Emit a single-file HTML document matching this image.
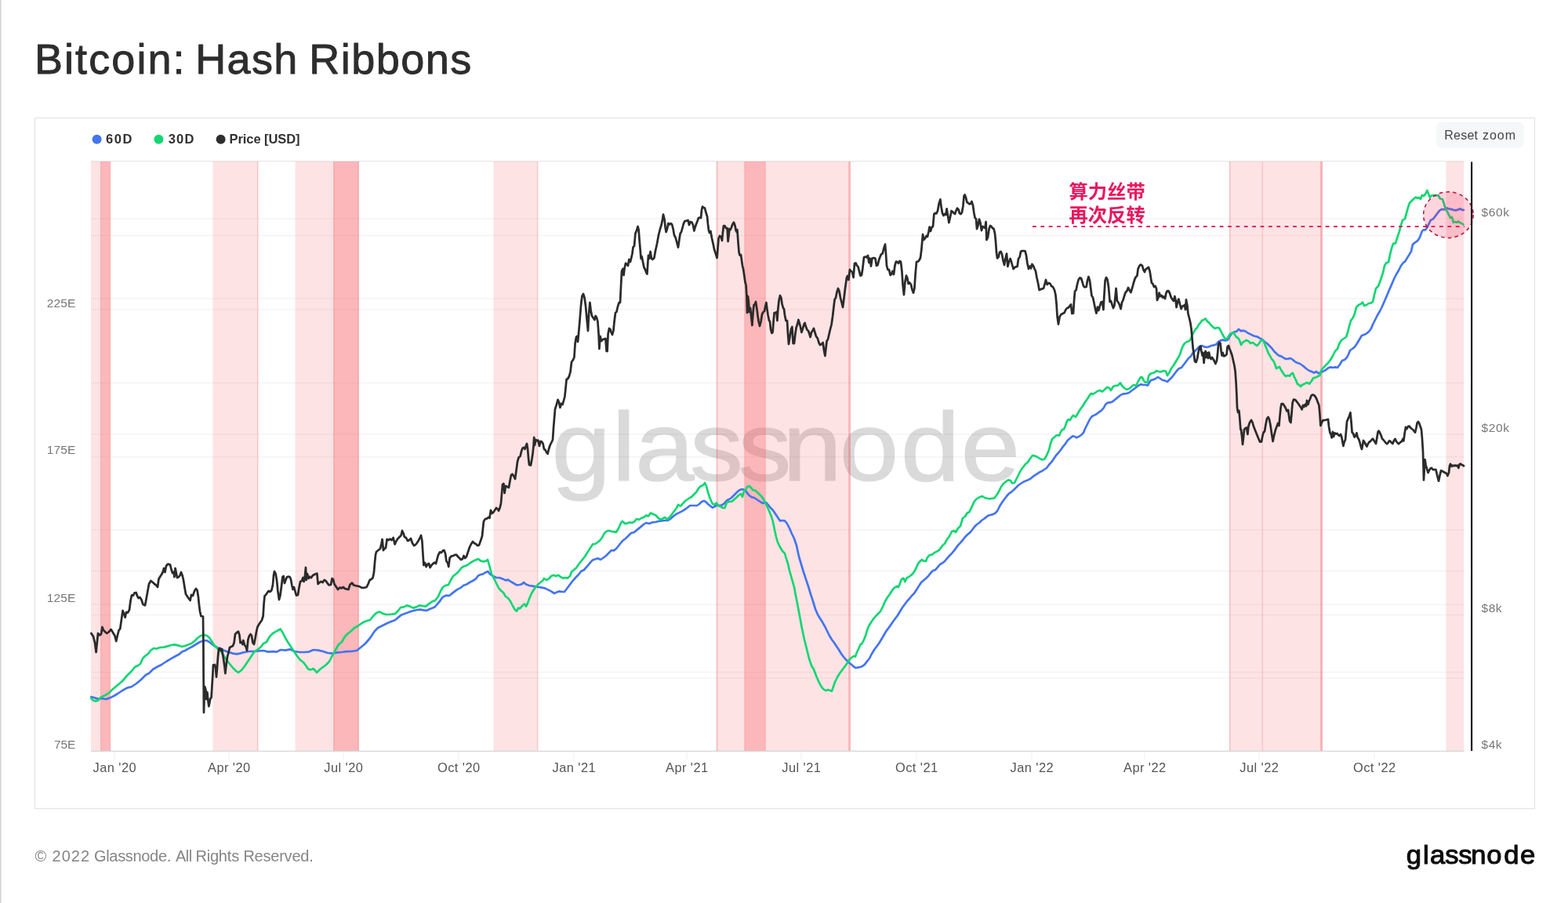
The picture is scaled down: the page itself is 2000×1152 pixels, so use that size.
<!DOCTYPE html>
<html lang="en"><head><meta charset="utf-8"><title>Bitcoin: Hash Ribbons</title>
<style>
html,body{margin:0;padding:0;background:#fff;}
body{width:2000px;height:1152px;overflow:hidden;position:relative;font-family:"Liberation Sans","Noto Sans CJK SC",sans-serif;}
svg{position:absolute;left:0;top:0;display:block}
text{font-family:"Liberation Sans","Noto Sans CJK SC",sans-serif;}
.ax{font-size:15.5px;fill:#777;}
.xl{font-size:16.4px;fill:#555;text-anchor:middle;letter-spacing:0.45px;}
.lg{font-size:16.5px;font-weight:700;fill:#303030;font-kerning:none;}
</style></head><body>
<svg width="2000" height="1152" viewBox="0 0 2000 1152">
<rect x="0" y="0" width="2000" height="1152" fill="#fff"/>
<rect x="0" y="0" width="1.6" height="1152" fill="#d4d4d4"/>
<text x="43.93 82.03 96.11 113.19 142.27 174.39 188.46 220.57 232.20 249.13 289.51 320.93 349.31 377.30 394.13 434.64 448.16 479.71 511.26 542.81 574.36" y="94.3" font-size="54" fill="#2d2d2d" stroke="#2d2d2d" stroke-width="0.9" stroke-linejoin="round" style="font-kerning:none">Bitcoin: Hash Ribbons</text>
<rect x="44.5" y="150.5" width="1913" height="881" fill="#fff" stroke="#e4e4e4" stroke-width="1.3"/>

<circle cx="123.6" cy="177.7" r="6" fill="#4474ee"/><text class="lg" x="134.94 145.68 156.42" y="183.4">60D</text>
<circle cx="202.4" cy="177.7" r="6" fill="#12d672"/><text class="lg" x="214.67 225.05 235.42" y="183.4">30D</text>
<circle cx="281.6" cy="177.7" r="6" fill="#2e2e2e"/><text class="lg" x="292.45 303.40 309.77 314.30 323.42 333.00 337.01 342.43 354.28 365.21 377.05" y="183.4">Price [USD]</text>
<rect x="1832.3" y="156" width="111.5" height="32.5" rx="6" fill="#f6f7f8"/><text x="1842.32 1854.11 1863.23 1871.46 1880.59 1886.00 1890.96 1899.95 1909.83 1919.72" y="178.1" font-size="16" fill="#444">Reset zoom</text>
<g>
<text transform="matrix(1.3600 0 0 1.2350 0 612.90)" x="517.22 573.91 595.53 646.99 692.21 733.93 787.38 844.61 901.15" y="0" font-size="100" fill="#dadada" stroke="#dadada" stroke-width="0.97" stroke-linejoin="round">glassnode</text>
<rect x="116" y="299.9" width="1752" height="1.2" fill="#000" fill-opacity="0.055"/>
<rect x="116" y="394.4" width="1752" height="1.2" fill="#000" fill-opacity="0.055"/>
<rect x="116" y="487.9" width="1752" height="1.2" fill="#000" fill-opacity="0.055"/>
<rect x="116" y="582.4" width="1752" height="1.2" fill="#000" fill-opacity="0.055"/>
<rect x="116" y="675.4" width="1752" height="1.2" fill="#000" fill-opacity="0.055"/>
<rect x="116" y="770.4" width="1752" height="1.2" fill="#000" fill-opacity="0.055"/>
<rect x="116" y="864.4" width="1752" height="1.2" fill="#000" fill-opacity="0.055"/>
<rect x="116" y="278.4" width="1752" height="1.2" fill="#000" fill-opacity="0.055"/>
<rect x="116" y="380.4" width="1752" height="1.2" fill="#000" fill-opacity="0.055"/>
<rect x="116" y="553.4" width="1752" height="1.2" fill="#000" fill-opacity="0.055"/>
<rect x="116" y="727.9" width="1752" height="1.2" fill="#000" fill-opacity="0.055"/>
<rect x="116" y="783.9" width="1752" height="1.2" fill="#000" fill-opacity="0.055"/>
<rect x="116" y="856.9" width="1752" height="1.2" fill="#000" fill-opacity="0.055"/>
<rect x="116" y="205" width="1752" height="1.4" fill="#000" fill-opacity="0.09"/>
<rect x="116" y="206" width="25.0" height="752" fill="#f8565c" fill-opacity="0.17"/>
<rect x="271.4" y="206" width="57.6" height="752" fill="#f8565c" fill-opacity="0.17"/>
<rect x="376.6" y="206" width="81.4" height="752" fill="#f8565c" fill-opacity="0.17"/>
<rect x="629.6" y="206" width="56.4" height="752" fill="#f8565c" fill-opacity="0.17"/>
<rect x="913.6" y="206" width="171.4" height="752" fill="#f8565c" fill-opacity="0.17"/>
<rect x="1568" y="206" width="119.0" height="752" fill="#f8565c" fill-opacity="0.17"/>
<rect x="1844.4" y="206" width="22.6" height="752" fill="#f8565c" fill-opacity="0.17"/>
<rect x="128" y="206" width="13.0" height="752" fill="#f8565c" fill-opacity="0.305"/>
<rect x="425" y="206" width="33.0" height="752" fill="#f8565c" fill-opacity="0.305"/>
<rect x="949.4" y="206" width="27.2" height="752" fill="#f8565c" fill-opacity="0.305"/>
<rect x="425.2" y="206" width="1.6" height="752" fill="#e0505a" fill-opacity="0.1"/>
<rect x="456.2" y="206" width="1.4" height="752" fill="#e0505a" fill-opacity="0.1"/>
<rect x="128" y="206" width="1.2" height="752" fill="#e0505a" fill-opacity="0.08"/>
<rect x="140" y="206" width="1.2" height="752" fill="#e0505a" fill-opacity="0.08"/>
<rect x="949.4" y="206" width="1.4" height="752" fill="#e0505a" fill-opacity="0.1"/>
<rect x="975.4" y="206" width="1.4" height="752" fill="#e0505a" fill-opacity="0.1"/>
<rect x="328" y="206" width="1.5" height="752" fill="#e0505a" fill-opacity="0.25"/>
<rect x="685" y="206" width="1.5" height="752" fill="#e0505a" fill-opacity="0.2"/>
<rect x="913.6" y="206" width="1.9" height="752" fill="#e0505a" fill-opacity="0.25"/>
<rect x="1082" y="206" width="3.0" height="752" fill="#e0505a" fill-opacity="0.28"/>
<rect x="1568" y="206" width="1.5" height="752" fill="#e0505a" fill-opacity="0.25"/>
<rect x="1609.5" y="206" width="1.5" height="752" fill="#e0505a" fill-opacity="0.2"/>
<rect x="1684" y="206" width="3.0" height="752" fill="#e0505a" fill-opacity="0.32"/>
<rect x="116" y="957.7" width="1752" height="1.1" fill="#cfcfcf"/>
<rect x="145.5" y="958.5" width="1" height="10" fill="#f0f0f0"/>
<rect x="291.5" y="958.5" width="1" height="10" fill="#f0f0f0"/>
<rect x="437.5" y="958.5" width="1" height="10" fill="#f0f0f0"/>
<rect x="584.5" y="958.5" width="1" height="10" fill="#f0f0f0"/>
<rect x="731.5" y="958.5" width="1" height="10" fill="#f0f0f0"/>
<rect x="875.5" y="958.5" width="1" height="10" fill="#f0f0f0"/>
<rect x="1021.5" y="958.5" width="1" height="10" fill="#f0f0f0"/>
<rect x="1168.5" y="958.5" width="1" height="10" fill="#f0f0f0"/>
<rect x="1315.5" y="958.5" width="1" height="10" fill="#f0f0f0"/>
<rect x="1459.5" y="958.5" width="1" height="10" fill="#f0f0f0"/>
<rect x="1605.5" y="958.5" width="1" height="10" fill="#f0f0f0"/>
<rect x="1752.5" y="958.5" width="1" height="10" fill="#f0f0f0"/>
</g>
<polyline points="116.4,889.0 120.0,890.0 125.0,891.6 130.0,891.0 135.0,892.0 140.0,890.4 145.0,888.0 150.0,885.0 156.0,881.0 162.0,877.6 168.0,876.0 174.0,872.0 180.0,867.0 186.0,861.0 190.0,859.0 195.0,854.0 200.0,851.0 206.0,848.0 212.0,844.0 218.0,840.4 224.0,837.0 228.0,835.0 232.0,831.6 236.0,830.0 240.0,827.6 245.0,825.0 250.0,822.0 255.0,819.0 259.0,817.6 263.0,817.0 267.0,819.0 272.0,823.0 277.0,826.0 282.0,828.0 287.0,830.4 292.0,832.0 297.0,833.6 302.0,834.4 306.0,833.6 312.0,832.0 318.0,831.0 324.0,831.0 330.0,830.4 336.0,830.0 342.0,831.6 348.0,831.2 353.0,831.6 358.0,829.0 364.0,829.6 370.0,828.4 376.0,831.0 382.0,832.0 388.0,832.0 394.0,831.6 400.0,829.0 406.0,829.6 412.0,831.0 418.0,833.0 424.0,833.6 430.0,832.4 436.0,832.0 442.0,831.2 448.0,831.0 455.0,830.0 460.0,826.0 466.0,821.0 472.0,814.0 478.0,805.0 482.0,801.0 488.0,798.0 494.0,795.0 500.0,792.4 504.0,791.0 508.0,787.6 512.0,784.4 516.0,783.0 520.0,781.6 524.0,780.0 528.0,779.0 532.0,778.0 536.0,777.6 540.0,778.4 544.0,779.0 548.0,777.0 552.0,775.6 555.0,774.0 558.0,770.4 561.0,767.0 564.0,762.4 567.0,760.4 570.0,759.6 573.0,760.0 576.0,757.6 580.0,754.4 584.0,751.6 588.0,749.6 591.0,747.0 595.0,745.6 599.0,743.0 603.0,741.0 607.0,738.4 610.0,734.4 613.0,733.0 616.0,732.4 619.0,730.4 622.4,729.0 625.0,732.4 629.0,735.0 633.0,737.0 637.0,737.0 641.0,738.4 645.0,740.4 648.0,739.6 651.0,741.6 655.0,744.0 659.0,746.4 663.0,746.0 666.0,745.0 668.0,743.0 671.0,745.6 675.0,747.0 679.0,747.6 683.0,748.4 687.0,749.0 691.0,749.6 695.0,750.4 699.0,752.4 703.0,754.4 707.0,757.0 710.0,755.6 713.0,754.4 717.0,755.0 720.0,755.0 723.0,751.0 726.0,747.0 730.0,741.6 734.0,737.0 738.0,733.0 741.0,729.0 745.0,727.0 749.0,722.4 753.0,717.6 756.0,714.4 760.0,713.0 763.0,712.4 766.0,714.0 769.0,712.0 773.0,709.0 777.0,705.0 780.0,702.0 783.0,702.4 786.0,700.0 790.0,695.0 794.0,690.0 798.0,687.0 802.0,683.0 805.0,680.0 809.0,679.0 813.0,675.6 817.0,672.4 821.0,669.0 824.0,667.0 828.0,668.0 832.0,666.4 836.0,666.0 840.0,665.0 844.0,664.4 848.0,664.0 852.0,664.0 855.0,662.0 859.0,658.4 863.0,655.6 867.0,653.6 871.0,651.6 875.0,649.0 880.0,645.0 883.0,645.0 886.0,645.0 889.0,645.0 892.0,643.0 895.0,640.0 898.0,639.0 900.0,640.0 903.0,643.0 906.0,645.6 909.0,647.6 912.0,646.0 915.0,644.4 918.0,645.0 921.0,644.4 924.0,642.0 927.0,638.4 930.0,637.0 933.0,635.0 936.0,632.0 939.0,629.0 942.0,626.0 945.0,624.4 948.0,624.4 951.0,626.0 953.0,629.0 956.0,632.4 959.0,634.4 962.0,635.0 965.0,637.0 968.0,639.0 971.0,641.0 974.0,642.0 977.0,641.0 980.0,644.4 983.0,648.0 986.0,651.0 989.0,655.6 992.0,660.0 995.0,664.4 998.0,664.0 1001.0,664.4 1004.0,668.0 1007.0,674.0 1010.0,681.0 1013.0,687.0 1016.0,696.0 1019.0,710.0 1022.0,720.0 1025.0,730.0 1028.0,739.0 1031.0,748.0 1034.0,758.0 1037.0,767.0 1040.0,777.0 1043.0,784.0 1046.0,789.0 1049.0,793.6 1052.0,799.0 1055.0,805.0 1058.0,811.0 1061.0,816.0 1064.0,820.0 1067.0,824.4 1070.0,829.0 1073.0,834.0 1076.0,838.0 1079.0,841.6 1082.0,844.4 1085.0,847.0 1088.0,849.6 1091.0,852.0 1094.0,851.6 1097.0,851.0 1100.0,850.0 1103.0,847.6 1106.0,843.6 1109.0,840.0 1112.0,834.0 1115.0,829.0 1118.0,825.0 1121.0,821.0 1124.0,816.0 1127.0,811.0 1130.0,805.6 1133.0,801.6 1136.0,797.6 1139.0,793.0 1142.0,789.0 1145.0,785.0 1148.0,780.0 1151.0,775.0 1154.0,771.0 1157.0,767.0 1160.0,763.6 1163.0,760.0 1166.0,757.0 1169.0,752.4 1172.0,747.6 1175.0,743.0 1178.0,740.4 1181.0,738.0 1184.0,735.0 1187.0,731.0 1190.0,728.0 1193.0,727.0 1196.0,723.6 1199.0,720.0 1202.0,718.4 1205.0,716.0 1208.0,712.4 1211.0,709.0 1214.0,706.0 1217.0,702.4 1222.0,695.6 1225.0,692.4 1228.0,689.0 1231.0,685.0 1234.0,682.0 1237.0,679.6 1240.0,676.0 1243.0,672.0 1246.0,669.0 1249.0,667.0 1252.0,664.0 1255.0,662.0 1258.0,659.6 1260.0,658.0 1263.0,657.0 1266.0,656.4 1269.0,655.0 1272.0,652.0 1275.0,646.0 1278.0,641.0 1281.0,637.0 1284.0,633.0 1287.0,629.6 1290.0,627.6 1293.0,625.0 1296.0,622.0 1299.0,619.0 1302.0,617.0 1305.0,615.0 1308.0,613.6 1311.0,612.4 1314.0,611.0 1317.0,608.4 1320.0,606.4 1323.0,604.4 1326.0,602.4 1329.0,601.0 1332.0,599.0 1335.0,597.0 1338.0,593.0 1341.0,589.6 1344.0,585.6 1347.0,581.0 1350.0,577.6 1353.0,574.0 1356.0,569.6 1359.0,566.0 1362.0,561.6 1365.0,559.0 1368.0,556.4 1371.0,557.0 1373.0,558.4 1376.0,557.0 1379.0,555.0 1382.0,552.0 1384.0,547.0 1387.0,541.0 1390.0,535.0 1393.0,531.0 1396.0,529.6 1399.0,528.0 1402.0,525.6 1405.0,523.6 1408.0,520.0 1410.0,516.0 1413.0,513.6 1416.0,513.6 1419.0,512.4 1422.0,510.0 1425.0,507.6 1428.0,505.0 1431.0,503.0 1434.0,502.4 1437.0,502.0 1440.0,501.0 1444.0,498.0 1448.0,495.0 1452.0,492.0 1455.0,490.4 1458.0,491.0 1461.0,491.0 1464.0,491.6 1466.0,488.0 1468.0,485.0 1471.0,484.4 1474.0,483.0 1477.0,481.0 1480.0,483.0 1483.0,485.0 1486.0,485.6 1489.0,487.0 1492.0,484.0 1495.0,481.0 1498.0,477.0 1501.0,473.0 1504.0,470.0 1507.0,469.0 1510.0,465.0 1513.0,461.0 1516.0,457.0 1519.0,454.4 1521.0,451.0 1524.0,448.0 1527.0,445.0 1530.0,442.0 1533.0,441.0 1536.0,442.4 1539.0,443.0 1542.0,442.4 1545.0,441.0 1548.0,440.4 1551.0,439.6 1554.0,436.0 1557.0,434.4 1560.0,433.6 1563.0,434.4 1566.0,433.6 1568.0,430.0 1571.0,425.6 1574.0,423.6 1577.0,423.0 1580.0,420.0 1583.0,422.4 1586.0,421.6 1589.0,423.0 1592.0,425.0 1595.0,426.4 1598.0,428.0 1601.0,429.0 1604.0,429.6 1607.0,431.6 1610.0,433.0 1613.0,436.0 1616.0,438.0 1619.0,441.0 1622.0,444.0 1625.0,448.0 1628.0,451.0 1631.0,453.6 1634.0,454.4 1637.0,456.4 1640.0,458.0 1643.0,457.6 1646.0,457.0 1649.0,459.0 1652.0,461.6 1655.0,463.0 1658.0,464.0 1661.0,466.0 1664.0,468.4 1667.0,471.0 1670.0,473.0 1673.0,474.0 1676.0,475.6 1679.0,474.0 1682.0,476.4 1685.0,475.0 1688.0,473.6 1691.0,472.0 1694.0,469.6 1697.0,468.4 1700.0,469.0 1703.0,468.4 1706.0,469.0 1709.0,465.0 1712.0,460.0 1715.0,459.0 1718.0,456.0 1720.0,452.0 1722.0,447.0 1725.0,445.0 1728.0,442.4 1731.0,438.0 1734.0,433.0 1737.0,428.0 1740.0,427.0 1743.0,425.6 1746.0,423.0 1749.0,419.0 1751.0,414.0 1754.0,408.0 1757.0,402.0 1760.0,397.0 1763.0,391.0 1766.0,384.0 1769.0,377.0 1772.0,370.0 1775.0,363.0 1778.0,356.0 1781.0,350.0 1784.0,345.0 1787.0,339.0 1790.0,335.0 1792.0,333.8 1795.0,328.9 1799.9,320.9 1801.9,311.9 1804.9,309.4 1807.9,307.4 1810.9,302.9 1813.9,294.9 1815.4,293.4 1817.9,293.4 1819.9,290.9 1821.9,286.9 1824.9,280.9 1827.9,279.4 1829.9,276.9 1832.9,272.9 1835.9,268.9 1838.9,266.9 1841.9,267.4 1844.9,265.4 1847.9,266.4 1850.9,266.9 1853.9,267.9 1856.9,268.4 1859.9,267.4 1862.9,266.4 1864.9,267.9 1866.9,267.9" fill="none" stroke="#4474ee" stroke-width="2.7" stroke-linejoin="round" stroke-linecap="round"/>
<polyline points="116.4,891.0 119.0,893.6 122.0,894.4 125.0,893.6 128.0,890.0 132.0,888.0 136.0,886.0 140.0,883.0 144.0,879.0 150.0,874.0 156.0,869.0 162.0,862.0 168.0,856.0 172.0,851.0 176.0,849.0 179.0,847.0 182.0,840.0 185.0,837.0 189.0,834.0 192.0,830.0 196.0,827.0 200.0,827.6 204.0,826.0 209.0,825.6 214.0,824.4 218.0,823.0 223.0,822.4 228.0,823.6 232.0,825.0 236.0,824.0 240.0,822.4 244.0,821.0 248.0,818.0 252.0,814.0 256.0,811.0 260.0,810.0 264.0,811.0 267.0,813.6 270.0,818.0 273.0,823.0 277.0,827.0 281.0,830.0 285.0,836.0 289.0,842.0 293.0,847.0 297.0,852.0 301.0,856.0 304.0,858.0 308.0,855.0 312.0,850.0 316.0,844.0 320.0,838.0 324.0,832.0 328.0,829.0 332.0,826.0 336.0,821.0 340.0,819.0 344.0,812.0 348.0,808.0 352.0,805.6 355.0,804.0 357.6,802.4 360.0,806.0 363.0,812.0 367.0,819.0 371.0,825.0 375.0,831.0 379.0,837.0 383.0,842.0 387.0,845.0 390.0,849.0 393.0,853.6 396.0,854.4 400.0,853.0 404.0,858.0 408.0,854.0 412.0,851.0 416.0,848.0 420.0,844.0 424.0,836.0 428.0,829.0 432.0,822.0 436.0,819.0 440.0,812.0 444.0,808.0 448.0,805.0 452.0,801.0 456.0,799.0 460.0,796.0 464.0,793.6 468.0,792.0 472.0,791.0 476.0,786.0 480.0,782.0 484.0,780.6 488.0,782.4 492.0,784.0 496.0,784.0 500.0,783.6 504.0,783.0 508.0,779.0 511.0,775.0 515.0,774.4 519.0,772.4 523.0,773.6 527.0,775.6 531.0,774.4 535.0,772.4 539.0,773.0 543.0,773.6 547.0,770.4 551.0,767.6 555.0,766.0 559.0,761.0 562.0,754.0 565.0,749.0 568.0,747.0 572.0,746.0 575.0,740.0 578.0,735.0 582.0,732.0 585.0,729.0 589.0,724.0 592.0,722.4 596.0,721.0 600.0,718.0 604.0,715.6 608.0,714.0 610.0,713.0 613.0,715.6 617.0,716.4 620.0,715.6 622.0,714.0 624.0,721.0 627.0,732.0 630.0,738.0 633.0,744.0 636.0,750.0 639.0,753.6 642.0,756.0 645.0,761.0 648.0,763.0 651.0,767.0 654.0,773.0 657.0,778.0 659.0,779.6 661.0,775.6 663.0,776.4 666.0,773.0 669.0,770.4 671.0,773.6 673.0,769.6 675.0,764.0 678.0,757.0 681.0,752.0 684.0,748.0 688.0,744.0 692.0,741.0 694.0,738.0 697.0,740.0 700.0,738.4 703.0,735.0 706.0,733.6 709.0,735.0 712.0,733.6 715.0,736.0 718.0,737.6 721.0,737.0 724.0,737.6 727.0,735.0 729.0,729.6 732.0,727.0 735.0,724.4 738.0,720.0 742.0,715.0 746.0,710.0 750.0,703.6 753.0,699.0 756.0,694.4 759.0,694.0 762.0,692.0 765.0,689.6 768.0,686.0 771.0,680.0 774.0,677.6 777.0,677.0 780.0,678.0 783.0,678.4 786.0,679.0 789.0,674.0 792.0,667.0 794.0,665.0 797.0,668.0 800.0,667.6 803.0,666.4 806.0,667.0 809.0,665.6 812.0,662.0 815.0,663.0 818.0,661.0 821.0,660.0 824.0,657.6 827.0,658.4 830.0,654.4 833.0,656.0 836.0,657.0 839.0,660.0 842.0,663.0 845.0,661.6 848.0,660.0 851.0,662.4 854.0,660.0 857.0,656.0 860.0,652.0 863.0,648.0 865.0,644.0 868.0,645.6 871.0,642.4 874.0,639.0 877.0,637.0 880.0,635.0 882.0,634.0 885.0,631.0 888.0,628.0 891.0,623.0 894.0,620.0 897.0,619.0 899.0,616.0 901.0,620.0 903.0,628.0 905.0,634.0 907.0,639.0 909.0,643.0 911.6,643.6 914.0,641.6 916.0,645.0 919.0,646.4 922.0,648.0 924.4,648.0 927.0,641.0 930.0,640.0 933.0,640.0 936.0,637.6 939.0,635.0 942.0,632.0 945.0,630.0 947.0,634.0 949.0,626.0 951.0,625.0 953.0,621.0 955.6,620.0 958.0,622.0 960.0,625.0 963.0,625.6 966.0,628.0 969.0,631.0 972.0,634.0 975.0,639.0 978.0,645.0 981.0,652.0 984.0,659.0 986.0,666.0 988.0,676.0 990.0,685.0 992.0,692.0 995.0,698.0 998.0,703.0 1001.0,706.0 1003.0,713.0 1005.0,719.0 1007.0,728.0 1009.0,735.0 1011.0,742.0 1013.0,749.0 1015.0,760.0 1017.0,770.0 1020.0,786.0 1023.0,802.0 1026.0,816.0 1029.0,828.0 1032.0,840.0 1035.0,849.0 1038.0,854.0 1041.0,862.0 1044.0,869.0 1047.0,875.0 1050.0,879.0 1053.0,881.0 1056.0,880.0 1059.0,881.0 1061.0,881.6 1063.0,876.0 1065.0,870.0 1068.0,864.0 1071.0,859.0 1074.0,855.0 1077.0,851.0 1080.0,847.0 1083.0,842.0 1086.0,839.0 1089.0,837.0 1091.0,837.6 1093.0,832.0 1095.0,828.0 1097.6,822.0 1099.6,821.0 1102.0,816.0 1104.0,811.0 1106.0,804.0 1108.0,799.0 1111.0,794.0 1114.0,789.6 1117.0,786.0 1120.0,783.0 1123.0,780.0 1126.0,774.0 1129.0,767.0 1132.0,762.0 1135.0,758.0 1138.0,753.0 1141.0,749.6 1144.0,748.0 1146.0,749.0 1148.0,744.0 1150.0,739.0 1152.4,737.6 1154.4,742.0 1156.4,737.6 1159.0,736.0 1162.0,734.0 1165.0,731.0 1168.0,726.0 1171.0,719.0 1174.0,715.6 1176.0,714.0 1178.0,715.6 1181.0,716.0 1183.0,711.0 1186.0,708.0 1189.0,707.6 1192.0,705.0 1195.0,703.6 1198.0,701.6 1203.0,695.0 1205.0,693.6 1208.0,688.0 1211.0,684.0 1214.0,678.0 1217.0,677.0 1219.0,679.0 1222.0,674.0 1225.0,671.0 1228.0,661.0 1231.0,659.0 1234.0,654.0 1236.0,653.6 1239.0,648.0 1242.0,641.0 1245.0,637.0 1248.0,635.0 1251.0,633.6 1253.0,633.0 1256.0,635.0 1260.0,636.0 1262.0,636.4 1265.0,636.0 1268.0,635.6 1271.0,632.0 1274.0,627.0 1277.0,621.0 1280.0,617.0 1283.0,614.4 1286.0,612.4 1289.0,613.0 1291.0,616.4 1294.0,616.0 1296.0,612.0 1299.0,606.0 1302.0,600.0 1305.0,596.0 1308.0,592.0 1311.0,589.6 1314.0,585.0 1317.0,581.0 1320.0,581.6 1323.0,583.0 1326.0,585.0 1329.0,586.4 1332.0,586.0 1335.0,581.0 1338.0,574.0 1340.0,566.0 1342.0,560.0 1345.0,557.6 1348.0,555.0 1351.0,555.6 1353.0,551.0 1355.0,548.0 1357.0,547.6 1359.0,543.0 1361.0,537.0 1363.0,535.0 1365.0,536.0 1367.0,532.0 1369.0,530.0 1372.0,532.0 1375.0,527.0 1378.0,522.0 1381.0,518.0 1384.0,513.0 1387.0,509.0 1390.0,504.0 1392.0,502.0 1394.0,503.0 1397.0,501.0 1400.0,499.0 1403.0,498.0 1406.0,499.6 1409.0,497.0 1412.0,494.0 1415.0,495.0 1417.0,498.0 1420.0,493.0 1423.0,492.0 1426.0,491.6 1429.0,488.4 1431.0,492.0 1434.0,495.0 1437.0,497.0 1440.0,496.0 1443.0,493.6 1446.0,491.0 1449.0,492.0 1452.0,486.0 1455.0,481.0 1457.0,481.6 1459.0,486.0 1461.0,487.6 1463.6,488.0 1465.0,480.0 1467.0,477.0 1470.0,476.0 1473.0,475.0 1475.0,473.0 1478.0,474.0 1481.0,474.4 1484.0,473.0 1487.0,473.6 1489.0,479.0 1491.6,475.0 1494.0,470.0 1497.0,466.0 1500.0,461.0 1503.0,456.0 1505.0,452.0 1507.0,446.0 1509.0,441.0 1511.0,438.0 1514.0,436.0 1517.0,435.0 1519.0,432.0 1521.0,427.0 1523.0,423.0 1525.0,420.0 1527.0,418.0 1529.0,414.0 1531.0,412.0 1533.0,409.0 1535.6,408.0 1537.6,406.4 1539.6,409.6 1542.0,411.6 1544.0,414.0 1546.0,416.0 1548.0,418.0 1550.0,419.0 1552.0,418.0 1555.0,418.4 1557.0,422.0 1559.0,426.0 1561.0,429.6 1563.0,432.0 1565.0,432.4 1567.0,429.0 1569.0,426.0 1571.0,425.0 1573.0,424.0 1575.0,427.0 1577.0,430.0 1579.0,431.0 1581.0,434.0 1583.0,440.0 1585.0,437.0 1587.0,435.6 1590.0,434.0 1593.0,435.6 1595.0,438.0 1598.0,437.0 1601.0,439.6 1603.6,441.0 1606.0,438.0 1608.0,435.0 1610.0,433.6 1612.0,436.0 1614.0,441.0 1616.0,446.0 1618.0,451.0 1620.0,454.0 1622.0,458.0 1624.0,460.0 1626.0,464.0 1628.0,470.0 1630.0,469.0 1632.0,468.0 1634.0,472.0 1636.0,475.0 1638.0,478.0 1640.0,480.0 1643.0,479.0 1645.0,479.6 1647.0,477.0 1649.0,476.0 1651.0,481.0 1653.0,485.0 1655.0,490.0 1657.0,491.0 1659.0,493.0 1661.0,491.0 1664.0,489.6 1667.0,488.0 1670.0,489.6 1673.0,486.0 1675.0,482.4 1678.0,481.6 1681.0,480.0 1683.6,479.0 1685.0,473.0 1688.0,469.0 1691.0,466.0 1694.0,463.0 1697.0,459.0 1700.0,454.0 1703.0,448.0 1706.0,445.0 1708.0,439.0 1711.0,434.0 1714.0,432.0 1717.0,430.0 1719.0,424.0 1721.0,416.0 1723.0,409.0 1726.0,405.0 1728.0,400.0 1730.0,392.0 1733.0,389.0 1736.0,387.6 1738.0,385.6 1740.0,390.0 1743.0,389.0 1746.0,387.0 1749.0,386.4 1751.0,385.0 1753.0,376.0 1755.0,368.0 1758.0,365.0 1760.0,360.0 1762.0,354.0 1764.0,348.0 1766.0,339.0 1768.0,335.6 1771.0,334.4 1773.0,324.9 1775.0,316.9 1777.0,310.9 1780.0,310.4 1782.0,303.9 1785.0,294.9 1787.0,286.9 1789.0,280.9 1792.0,279.4 1794.0,271.9 1795.9,264.9 1797.9,259.0 1800.9,256.0 1802.9,254.0 1805.9,251.5 1807.9,253.0 1809.9,252.0 1811.9,254.0 1813.9,249.0 1815.9,250.0 1817.9,248.0 1820.4,243.0 1822.4,248.0 1823.9,252.0 1825.9,249.5 1828.9,249.0 1831.9,249.5 1834.4,249.0 1836.9,253.5 1839.9,254.0 1841.9,260.0 1843.9,266.9 1845.9,269.9 1847.9,273.9 1849.9,277.9 1851.9,276.9 1853.9,283.9 1855.9,282.9 1857.9,283.9 1859.9,282.4 1861.9,283.9 1863.9,284.9 1866.4,286.4" fill="none" stroke="#12d672" stroke-width="2.7" stroke-linejoin="round" stroke-linecap="round"/>
<polyline points="116.4,808.0 119.0,812.0 121.0,820.0 122.6,832.0 124.0,818.0 125.0,808.0 127.0,810.4 129.0,809.0 130.4,800.0 132.0,804.0 134.0,806.0 136.4,808.0 139.0,806.0 141.6,803.0 144.0,807.0 146.4,811.0 148.2,818.0 150.0,810.0 151.6,804.0 153.2,802.4 155.0,790.0 156.6,779.0 158.4,784.0 159.6,787.6 161.0,781.0 163.0,781.6 165.0,778.0 166.6,766.0 168.0,759.4 170.0,759.6 171.6,756.4 173.6,756.0 175.0,760.0 176.6,763.0 178.4,762.0 180.4,765.0 182.4,771.0 185.0,772.4 186.6,764.0 188.4,754.0 190.0,745.0 192.4,741.0 195.0,743.0 197.0,745.0 199.0,746.4 201.0,749.0 202.4,739.0 204.0,736.0 206.0,733.0 207.6,730.0 209.0,725.0 210.4,730.0 212.0,722.0 214.0,719.6 217.0,720.4 218.4,726.0 220.0,731.0 221.6,730.0 222.4,736.0 223.6,725.0 225.0,732.0 226.0,737.0 228.0,736.0 229.6,734.0 231.0,730.0 232.6,734.0 234.0,740.0 235.6,750.0 237.0,758.0 239.0,761.0 241.0,764.0 242.6,766.0 244.0,759.0 246.0,760.0 248.0,754.0 250.0,751.0 251.6,753.0 253.0,762.0 254.0,772.0 255.0,780.0 256.4,786.0 259.0,786.6 259.4,820.0 259.6,860.0 260.0,909.0 260.6,888.0 261.2,876.0 262.4,880.0 263.2,892.0 264.4,883.0 265.2,892.0 266.4,901.0 267.6,895.0 268.4,891.0 269.6,890.0 270.4,876.0 271.4,860.0 272.0,848.4 274.0,848.0 275.0,852.0 276.0,863.6 277.0,852.0 278.0,838.0 279.0,828.0 280.4,827.0 282.0,830.0 283.0,828.0 285.0,840.0 286.4,850.0 287.4,859.0 288.6,848.0 290.0,838.0 291.6,832.0 293.0,826.0 295.0,825.0 297.0,824.0 298.6,820.0 300.0,809.0 302.0,807.0 304.0,805.6 305.4,810.0 306.6,820.0 308.0,819.0 309.4,822.0 310.4,817.0 312.0,823.0 313.6,825.0 315.0,830.0 316.4,816.0 318.0,811.0 319.6,809.0 321.0,811.0 322.4,820.0 324.0,822.0 325.6,814.0 327.0,806.0 328.4,800.0 330.0,797.0 332.0,794.0 334.0,791.0 335.6,786.0 336.6,770.0 337.6,760.0 339.0,759.0 341.0,756.0 342.4,754.0 344.4,755.0 346.4,753.0 348.0,746.0 349.0,734.0 350.0,729.0 351.6,732.0 353.0,740.0 354.4,754.0 356.0,765.0 357.4,760.0 359.0,748.0 360.4,736.0 361.6,735.0 363.0,744.0 364.4,740.0 366.0,736.0 368.0,735.6 369.6,736.0 371.0,739.0 372.4,747.0 373.6,752.0 375.0,749.0 376.4,754.0 378.0,759.6 380.0,759.0 381.4,750.0 383.0,742.0 385.0,741.0 386.4,737.0 387.6,742.0 389.0,734.0 390.0,724.0 390.6,740.0 392.0,732.0 393.6,738.0 395.0,735.6 397.0,737.0 399.0,734.0 401.0,733.0 403.0,732.0 404.4,731.6 405.6,745.0 407.6,743.0 409.6,742.0 411.6,743.0 413.6,740.0 415.6,741.0 417.6,744.0 419.6,746.4 422.0,746.0 423.6,738.0 425.0,739.0 426.4,745.0 428.4,748.0 431.0,752.0 433.6,749.6 436.0,750.4 438.0,749.0 440.0,751.0 442.4,751.6 444.4,752.0 446.4,746.0 449.0,743.6 451.0,746.4 453.0,747.0 455.6,747.6 458.0,748.0 461.0,749.6 464.0,750.0 467.6,749.0 469.6,745.0 471.6,740.0 473.6,739.0 475.6,737.0 477.0,730.0 478.0,718.0 479.0,708.0 480.0,704.0 482.4,702.0 485.0,700.0 486.4,694.0 487.6,688.0 489.0,702.0 490.4,700.0 492.0,699.0 493.6,688.0 495.6,689.0 497.6,687.6 499.6,689.0 501.6,686.0 503.6,694.4 505.6,690.0 507.6,687.0 509.6,685.0 511.6,683.0 513.0,677.0 514.4,680.0 516.0,685.0 518.0,686.0 520.0,690.0 522.0,689.0 524.0,687.0 526.0,693.0 528.0,696.0 530.0,695.0 531.6,693.0 533.6,690.0 535.6,686.0 537.0,683.0 538.4,690.0 539.4,706.0 540.4,721.0 542.0,718.0 543.6,723.0 545.2,720.0 547.0,719.0 548.6,724.0 550.4,721.0 552.4,719.0 554.4,717.6 556.0,719.0 557.6,713.0 559.0,708.0 561.0,704.4 563.0,705.0 565.0,702.4 566.4,702.0 568.0,706.0 569.4,716.0 571.0,718.0 572.2,723.0 573.6,712.0 575.6,709.6 578.0,709.0 580.0,708.0 582.0,707.6 584.0,710.0 586.0,712.0 588.0,714.0 590.0,713.0 591.6,709.0 593.0,712.0 595.0,710.0 597.0,704.0 599.0,698.0 601.0,694.0 603.0,691.0 605.0,693.0 607.0,694.0 609.0,696.0 611.0,695.6 613.0,690.0 615.0,684.0 616.0,674.0 617.0,665.0 619.0,662.0 621.0,661.6 623.0,660.0 624.4,661.0 626.0,651.0 627.6,655.0 629.0,654.0 631.0,651.0 633.0,648.0 634.4,649.0 636.0,651.6 637.6,648.0 639.0,642.0 640.0,630.0 641.0,618.0 642.4,617.0 643.6,629.0 645.0,620.0 647.0,621.0 649.0,622.0 650.4,614.0 652.0,606.0 653.6,605.0 655.6,608.0 657.0,611.0 658.6,600.0 660.0,589.0 661.6,583.6 663.6,582.0 665.0,576.0 666.4,572.0 668.0,571.0 669.6,573.0 671.0,568.0 672.0,566.0 673.0,572.0 674.0,584.0 675.0,593.0 677.0,593.6 678.4,586.0 679.6,578.0 680.6,568.0 681.2,558.0 682.0,568.0 683.6,561.0 685.0,562.4 686.4,561.6 688.0,569.0 689.6,563.0 691.0,563.6 692.6,566.0 694.0,573.0 695.6,574.0 697.0,577.0 698.6,579.0 700.0,573.0 701.6,568.0 703.6,564.0 705.0,561.0 706.0,546.0 707.0,534.0 708.0,522.0 709.6,517.0 711.6,510.0 713.0,513.0 714.4,520.0 716.0,515.0 717.6,516.0 719.0,511.0 720.4,506.0 721.6,494.0 722.6,484.0 724.4,483.0 726.0,480.0 727.6,474.0 729.0,462.0 731.0,459.0 732.4,456.0 733.6,438.0 735.0,430.0 736.0,429.0 737.0,436.0 738.0,426.0 739.4,410.0 741.0,390.0 742.4,378.0 744.0,375.0 745.6,380.0 747.0,390.0 748.4,406.0 750.0,422.0 751.0,402.0 752.4,386.0 753.6,396.0 755.0,403.0 757.0,406.0 758.4,408.0 759.6,403.0 761.0,405.0 762.4,410.0 763.6,426.0 764.4,445.0 765.6,429.0 767.0,435.0 769.0,433.0 771.0,432.4 772.4,432.0 773.6,448.0 774.6,448.0 775.6,426.0 777.0,419.0 778.4,420.0 779.6,424.0 781.0,427.0 782.4,422.0 783.6,410.0 785.0,399.0 786.4,398.0 788.0,391.0 789.6,386.0 791.0,386.0 792.0,366.0 793.0,346.0 794.4,343.0 795.6,351.0 796.6,342.0 798.0,336.0 799.6,337.0 801.0,339.0 802.4,331.0 804.0,334.0 805.0,330.0 806.4,324.0 807.6,315.0 809.0,314.0 810.4,298.0 812.0,294.0 813.6,289.0 814.6,293.0 815.6,306.0 816.6,318.0 817.6,330.0 818.6,327.0 820.0,334.0 821.4,341.0 823.0,344.0 824.4,348.0 825.4,349.6 826.4,334.0 827.0,326.0 828.0,330.0 829.6,321.0 831.0,330.0 832.4,331.0 834.4,329.0 836.0,320.0 838.0,311.0 840.0,300.0 842.0,292.0 843.6,287.0 845.0,280.0 846.0,273.6 847.6,280.0 848.6,290.0 849.6,296.0 851.0,292.0 852.4,285.0 854.0,286.4 855.6,285.0 857.0,286.0 858.6,292.0 860.0,300.0 861.6,303.0 863.0,308.0 865.0,315.6 866.4,306.0 867.6,298.0 869.0,296.0 870.4,291.0 872.0,285.0 873.6,282.0 875.6,281.6 877.6,281.0 879.0,287.0 880.6,283.0 882.4,283.6 884.0,287.0 885.4,294.4 886.6,290.0 888.0,286.0 889.6,282.0 891.0,278.0 892.6,277.6 894.0,278.0 895.0,268.0 896.0,263.6 897.6,265.0 899.0,265.6 900.4,271.0 902.0,276.0 903.0,286.0 904.0,294.0 905.0,297.0 906.4,295.0 908.0,304.0 909.6,311.0 911.0,318.0 913.0,324.0 914.6,329.0 915.6,316.0 916.6,304.0 918.0,301.0 919.6,302.0 921.0,307.0 922.0,296.0 923.0,288.0 924.4,288.0 926.0,291.0 927.6,291.0 928.6,308.0 929.6,300.0 930.4,292.0 931.6,293.0 933.0,290.0 934.4,286.0 936.0,283.6 937.6,288.0 938.6,294.0 939.6,296.0 940.4,293.0 941.6,310.0 942.6,322.0 943.6,325.6 945.0,325.0 946.0,332.0 947.0,339.0 948.0,343.0 949.4,352.0 950.4,359.6 951.6,364.0 952.4,378.0 953.0,399.0 954.0,378.0 955.0,386.0 955.6,398.0 957.0,393.0 958.0,402.0 959.4,415.0 960.6,398.0 961.6,389.0 963.0,388.0 964.0,385.0 965.4,394.0 966.4,402.0 967.6,410.0 969.0,416.0 970.6,410.0 972.0,401.0 973.6,398.0 975.0,397.0 976.4,390.0 977.4,386.0 978.4,394.0 979.6,402.0 981.0,409.0 982.0,410.0 983.0,420.0 984.4,425.0 985.6,424.0 986.6,410.0 987.6,399.0 989.0,399.0 990.4,398.0 991.4,409.0 992.4,394.0 993.6,383.0 995.0,377.0 996.4,380.0 997.6,388.0 999.0,393.0 1000.0,394.0 1001.0,402.0 1002.4,409.0 1004.0,409.0 1005.0,426.0 1006.0,439.0 1007.6,429.0 1009.0,420.0 1010.4,417.0 1011.6,438.0 1013.0,438.0 1014.4,426.0 1015.6,418.0 1017.0,414.0 1018.4,408.0 1019.6,412.0 1021.0,417.0 1022.4,424.0 1024.0,419.0 1025.4,414.0 1026.6,412.0 1028.0,417.0 1029.6,421.0 1031.0,422.0 1032.4,426.0 1033.6,430.0 1035.0,424.0 1036.4,422.0 1038.0,419.0 1039.4,424.0 1041.0,429.0 1043.0,432.0 1044.4,437.0 1046.0,440.0 1048.0,439.0 1049.6,437.0 1051.0,447.0 1052.4,454.0 1053.6,443.0 1054.6,435.0 1056.0,433.0 1057.6,426.0 1059.0,420.0 1060.6,414.0 1062.0,404.0 1063.4,392.0 1064.6,382.0 1066.0,380.0 1067.4,373.0 1069.0,368.0 1070.4,371.0 1072.0,380.0 1073.6,386.0 1075.0,392.0 1076.6,380.0 1078.0,368.0 1080.0,354.0 1081.0,352.0 1082.4,357.0 1084.0,344.0 1085.6,346.0 1087.0,347.0 1088.6,354.0 1090.0,336.0 1091.6,335.6 1093.0,339.0 1094.4,340.0 1096.0,346.0 1097.4,351.6 1099.0,351.0 1100.4,342.0 1102.0,328.0 1104.0,327.6 1105.6,328.4 1107.0,326.0 1108.4,335.0 1109.6,329.6 1111.0,339.6 1112.4,329.6 1114.4,329.0 1116.4,329.6 1118.0,339.0 1119.6,338.0 1121.0,332.0 1122.4,328.0 1124.0,324.4 1125.6,323.6 1127.0,318.0 1129.0,311.6 1130.0,324.0 1131.0,339.0 1132.4,344.0 1134.0,344.0 1135.6,351.0 1137.0,350.0 1138.4,346.0 1140.0,350.0 1141.4,339.0 1143.0,333.6 1144.4,334.0 1146.0,336.0 1147.4,333.0 1149.0,334.0 1150.4,346.0 1151.6,364.0 1153.0,376.0 1154.4,360.0 1156.0,351.6 1157.4,355.0 1158.6,362.0 1160.0,360.4 1162.0,363.0 1163.6,370.0 1165.0,373.6 1166.4,368.0 1167.6,350.0 1169.0,334.0 1171.0,333.6 1172.4,332.0 1174.0,329.0 1175.4,318.0 1177.0,299.0 1178.4,306.0 1180.0,304.0 1181.6,301.0 1183.0,302.0 1184.4,296.0 1185.6,289.6 1187.0,295.0 1188.4,290.0 1190.0,289.0 1191.4,273.0 1193.0,272.0 1194.4,272.4 1196.0,269.0 1197.6,260.0 1199.4,254.4 1200.6,264.0 1202.0,272.0 1203.6,275.0 1205.0,273.0 1206.4,274.0 1207.6,266.4 1209.0,275.0 1210.4,284.0 1212.0,277.0 1213.6,269.0 1215.0,270.0 1216.6,272.0 1218.0,273.0 1219.4,269.0 1221.0,265.6 1222.4,267.0 1224.0,272.0 1225.6,273.0 1227.0,271.0 1228.4,263.0 1229.6,250.0 1230.6,248.4 1232.0,252.0 1233.4,258.0 1235.0,259.0 1236.4,260.4 1238.0,260.0 1239.4,257.0 1241.0,262.0 1242.4,272.0 1243.6,278.0 1245.0,279.0 1246.0,292.0 1247.4,288.0 1249.0,279.6 1250.4,284.0 1252.0,294.0 1253.4,289.0 1255.0,290.0 1256.4,291.0 1257.6,283.0 1258.4,306.0 1260.0,303.0 1261.6,292.0 1263.0,288.0 1264.6,289.0 1266.0,291.0 1267.6,292.0 1269.0,298.0 1270.0,308.0 1271.0,322.0 1272.0,329.4 1273.6,328.0 1275.0,322.0 1276.6,321.0 1278.0,324.0 1279.4,332.0 1281.0,338.0 1282.4,330.0 1284.0,323.6 1285.4,340.0 1287.0,334.0 1288.6,330.0 1290.0,334.0 1291.4,339.0 1292.6,343.0 1294.4,341.0 1296.0,340.4 1297.6,340.0 1299.0,330.0 1300.6,328.0 1302.0,321.0 1303.6,320.0 1305.6,320.0 1307.6,320.4 1309.0,326.0 1310.4,336.0 1312.0,343.0 1313.6,339.6 1315.0,342.4 1316.4,337.0 1318.0,339.0 1319.6,343.0 1321.0,346.0 1322.4,354.0 1324.0,361.0 1325.6,370.0 1327.6,369.0 1329.6,368.4 1331.0,368.0 1332.4,363.0 1334.0,357.0 1335.6,363.0 1337.6,361.0 1339.6,362.0 1341.0,365.0 1343.0,366.0 1345.0,370.0 1346.4,376.0 1347.6,388.0 1348.6,404.0 1350.0,413.6 1351.6,404.0 1353.6,401.0 1355.6,400.0 1357.6,399.0 1359.4,395.0 1361.0,393.0 1363.0,392.4 1364.4,390.4 1366.0,388.4 1367.4,400.0 1369.0,399.6 1370.0,384.0 1371.0,371.6 1372.6,370.0 1374.0,363.0 1375.6,357.0 1377.4,354.4 1379.0,355.0 1380.6,360.0 1382.0,365.0 1383.6,366.4 1385.6,366.0 1387.0,358.0 1388.4,353.0 1390.0,358.0 1391.4,369.0 1392.4,377.0 1394.0,379.6 1395.4,386.0 1397.0,394.0 1398.4,399.6 1400.0,391.6 1401.4,396.0 1403.0,390.0 1404.4,385.6 1406.0,385.0 1407.4,395.0 1408.6,374.0 1409.6,358.0 1411.0,354.0 1412.6,357.0 1414.0,366.0 1415.6,385.0 1417.0,384.0 1418.6,389.0 1420.0,393.0 1421.4,390.0 1422.6,378.0 1423.6,368.0 1425.0,384.0 1426.6,386.0 1428.0,389.0 1429.6,394.0 1431.0,386.0 1432.4,383.0 1434.0,378.0 1435.6,373.0 1437.6,371.0 1439.0,367.0 1440.6,370.0 1442.4,373.0 1444.0,368.0 1445.6,362.0 1447.4,356.0 1449.0,353.0 1450.4,352.0 1451.6,343.0 1453.4,339.0 1455.0,337.6 1457.0,339.0 1458.4,344.0 1460.0,347.0 1461.0,344.0 1463.0,342.4 1465.0,341.0 1466.6,346.0 1468.0,355.0 1469.0,361.0 1470.4,362.0 1472.0,366.0 1473.6,365.0 1475.0,368.0 1476.0,383.0 1477.4,380.0 1478.6,373.6 1480.0,378.0 1481.6,377.0 1483.0,379.6 1484.4,378.4 1486.0,381.0 1487.4,374.0 1489.0,371.0 1490.4,371.0 1492.0,374.0 1493.6,379.0 1495.4,382.0 1497.0,384.0 1498.4,378.0 1499.6,383.0 1500.6,392.0 1502.0,385.0 1503.4,381.6 1505.0,388.0 1506.6,394.0 1508.0,391.0 1509.6,390.0 1511.0,389.0 1512.0,395.0 1513.0,382.4 1514.4,390.0 1515.4,400.0 1517.0,406.0 1518.4,412.0 1519.6,420.0 1520.6,432.0 1521.6,444.0 1522.6,450.0 1524.0,461.0 1525.6,462.0 1527.0,458.0 1528.4,450.0 1530.0,443.6 1531.4,441.6 1532.4,448.0 1533.6,453.6 1534.6,450.0 1535.6,463.0 1536.6,452.0 1537.6,448.0 1538.6,456.0 1539.6,450.0 1541.0,457.0 1542.0,449.6 1543.4,456.0 1544.6,458.0 1546.0,456.0 1547.4,458.0 1549.0,461.0 1550.4,464.0 1552.0,460.0 1553.0,452.0 1554.0,440.0 1555.4,437.0 1556.6,438.0 1557.6,448.0 1558.6,453.6 1559.6,450.0 1561.0,454.4 1563.0,453.6 1564.6,452.0 1565.6,442.4 1567.0,441.0 1568.4,445.0 1570.0,449.0 1571.4,453.0 1573.0,460.0 1574.4,466.0 1575.6,474.0 1576.6,488.0 1577.4,504.0 1578.0,520.0 1579.0,526.0 1580.4,524.0 1581.4,535.0 1582.4,548.0 1583.0,548.0 1584.0,556.0 1585.0,567.0 1586.0,558.0 1587.0,548.0 1588.4,546.4 1590.0,545.6 1591.4,554.0 1592.4,544.0 1594.0,539.0 1596.0,536.0 1597.6,539.0 1599.0,544.0 1601.0,549.0 1603.0,554.0 1605.0,559.0 1607.0,563.6 1609.0,563.6 1610.4,556.0 1611.6,551.6 1613.0,550.4 1614.4,542.0 1616.0,534.0 1617.6,532.0 1619.0,535.0 1620.4,542.0 1622.0,553.0 1623.6,563.0 1625.0,556.0 1627.0,548.0 1628.6,544.0 1630.0,540.0 1631.4,543.0 1632.4,532.0 1633.6,520.0 1634.6,515.0 1636.4,515.0 1638.4,518.0 1640.0,521.0 1641.4,524.4 1643.0,523.0 1644.0,530.0 1645.0,537.0 1646.4,539.0 1647.6,526.0 1648.6,514.0 1650.0,509.6 1652.0,510.0 1654.0,512.4 1656.0,515.0 1658.0,518.0 1659.4,520.0 1660.6,522.4 1662.0,517.0 1663.4,519.0 1664.6,516.0 1666.0,518.0 1667.0,511.0 1668.4,516.0 1669.6,512.0 1671.0,509.0 1672.4,505.0 1674.0,503.6 1676.0,504.0 1678.0,506.4 1679.6,509.6 1681.0,513.6 1682.4,517.0 1683.4,528.0 1684.4,543.0 1686.0,539.0 1687.6,536.0 1689.6,536.0 1691.6,535.6 1694.0,535.0 1695.0,544.0 1696.4,552.0 1697.6,554.0 1698.6,558.4 1700.0,551.0 1701.0,557.0 1702.4,552.4 1704.0,553.6 1705.6,553.0 1707.0,555.0 1708.4,556.0 1710.0,554.0 1711.4,558.0 1712.4,564.0 1713.4,569.0 1714.6,564.0 1716.0,561.0 1717.0,550.0 1718.0,538.0 1719.4,534.4 1721.0,531.0 1722.4,526.4 1723.6,539.0 1724.6,551.6 1726.0,553.0 1727.6,557.6 1729.0,556.0 1730.4,552.4 1731.6,558.0 1733.0,560.0 1734.4,564.0 1735.6,569.0 1737.0,573.0 1738.0,568.0 1739.0,562.0 1740.4,564.0 1742.0,567.0 1743.4,569.6 1745.0,566.0 1746.4,564.0 1748.0,563.0 1749.6,561.0 1751.0,559.6 1752.4,562.0 1753.6,563.6 1755.0,566.0 1756.4,558.0 1757.6,551.0 1758.6,549.6 1760.0,552.0 1761.6,555.6 1763.0,559.6 1764.4,561.0 1766.0,563.0 1767.6,565.0 1769.0,566.4 1770.4,565.0 1772.0,562.4 1773.6,563.0 1775.0,565.0 1776.4,566.0 1778.0,562.0 1779.4,560.0 1781.0,563.0 1782.6,565.0 1784.0,566.4 1786.0,564.4 1788.0,563.0 1789.4,560.0 1790.4,562.4 1791.6,553.0 1793.0,545.0 1794.4,547.0 1796.0,544.0 1797.6,543.6 1799.0,545.6 1800.6,547.0 1802.0,548.0 1803.6,550.0 1805.0,551.6 1806.4,546.0 1807.6,539.6 1809.0,538.0 1810.4,540.4 1812.0,545.0 1813.0,548.0 1814.0,560.0 1815.0,576.0 1815.6,596.0 1816.0,612.4 1816.8,598.0 1817.6,586.4 1818.6,593.0 1820.0,598.0 1821.6,603.0 1823.0,600.0 1824.6,597.6 1826.0,597.0 1827.6,599.0 1829.6,599.0 1831.4,599.0 1832.6,604.0 1834.0,610.0 1835.0,613.6 1836.4,607.0 1838.0,600.4 1839.6,601.0 1841.4,602.0 1843.0,603.0 1845.0,604.0 1846.4,607.0 1848.0,603.0 1849.0,594.4 1850.0,592.0 1851.6,595.0 1853.0,593.6 1854.4,594.4 1856.0,593.6 1857.6,594.4 1859.0,593.6 1860.4,597.0 1861.6,592.4 1863.0,591.6 1864.4,593.0 1866.0,593.6 1867.0,594.4" fill="none" stroke="#2b2b2b" stroke-width="2.75" stroke-linejoin="round" stroke-linecap="round"/>
<line x1="1317" y1="289" x2="1868" y2="289" stroke="#e3195a" stroke-width="1.9" stroke-dasharray="4.7 5.68"/>
<ellipse cx="1847.4" cy="274.1" rx="31.8" ry="29.3" fill="#ff2a5c" fill-opacity="0.2" stroke="#b3123f" stroke-width="1.5" stroke-dasharray="4.6 4.2"/>
<text x="1363.5" y="253" font-size="24.3" font-weight="700" fill="#e8175d">算力丝带</text>
<text x="1363.5" y="282.5" font-size="24.3" font-weight="700" fill="#e8175d">再次反转</text>
<rect x="1876" y="206.5" width="2.2" height="751.5" fill="#1a1a1a"/>
<text class="ax" x="96.3" y="391.8" text-anchor="end" textLength="36.5" lengthAdjust="spacing">225E</text>
<text class="ax" x="96.3" y="578.8" text-anchor="end" textLength="36.5" lengthAdjust="spacing">175E</text>
<text class="ax" x="96.3" y="767.8" text-anchor="end" textLength="36.5" lengthAdjust="spacing">125E</text>
<text class="ax" x="96.3" y="954.8" text-anchor="end" textLength="27.3" lengthAdjust="spacing">75E</text>
<text class="ax" x="1889.5" y="276.2" textLength="35.5" lengthAdjust="spacing">$60k</text>
<text class="ax" x="1889.5" y="551.2" textLength="35.5" lengthAdjust="spacing">$20k</text>
<text class="ax" x="1889.5" y="781.2" textLength="26" lengthAdjust="spacing">$8k</text>
<text class="ax" x="1889.5" y="955.2" textLength="26" lengthAdjust="spacing">$4k</text>
<text class="xl" x="146.3" y="985.3">Jan '20</text>
<text class="xl" x="292.3" y="985.3">Apr '20</text>
<text class="xl" x="438.3" y="985.3">Jul '20</text>
<text class="xl" x="585.3" y="985.3">Oct '20</text>
<text class="xl" x="732.3" y="985.3">Jan '21</text>
<text class="xl" x="876.3" y="985.3">Apr '21</text>
<text class="xl" x="1022.3" y="985.3">Jul '21</text>
<text class="xl" x="1169.3" y="985.3">Oct '21</text>
<text class="xl" x="1316.3" y="985.3">Jan '22</text>
<text class="xl" x="1460.3" y="985.3">Apr '22</text>
<text class="xl" x="1606.3" y="985.3">Jul '22</text>
<text class="xl" x="1753.3" y="985.3">Oct '22</text>
<text x="44.40 60.00 66.50 78.66 90.81 102.97 114.00 120.00 135.24 139.36 150.16 159.84 169.51 180.31 191.12 201.92 212.72 217.50 224.00 236.84 240.78 245.00 249.40 263.66 267.93 278.87 289.81 295.19 305.50 310.40 324.62 335.52 345.29 356.19 362.62 372.40 383.30 394.20" y="1098.5" font-size="20" fill="#858585">© 2022 Glassnode. All Rights Reserved.</text>
<text transform="matrix(0.3460 0 0 0.3410 0 1101.50)" x="5184.38 5245.96 5271.61 5327.25 5376.39 5422.56 5480.51 5544.06 5604.19" y="0" font-size="100" fill="#0d0d0d" stroke="#0d0d0d" stroke-width="3.23" stroke-linejoin="round">glassnode</text>
</svg></body></html>
